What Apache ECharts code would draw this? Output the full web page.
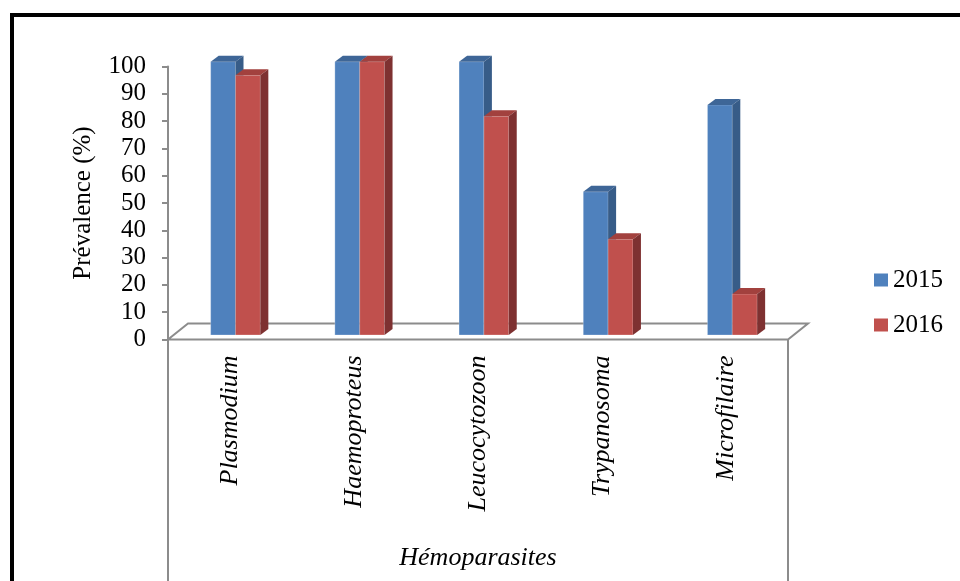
<!DOCTYPE html>
<html>
<head>
<meta charset="utf-8">
<script src="https://cdn.jsdelivr.net/npm/echarts@6/dist/echarts.min.js"></script>
<style>
  html, body { margin: 0; padding: 0; background: #ffffff; }
  #chart { width: 960px; height: 581px; }
</style>
</head>
<body>
<div id="chart"></div>
<script>
// Prévalence des hémoparasites par année
const categories = ['Plasmodium', 'Haemoproteus', 'Leucocytozoon', 'Trypanosoma', 'Microfilaire'];
const years = ['2015', '2016'];
const values2015 = [100, 100, 100, 52.4, 84.2];
const values2016 = [95, 100, 80, 35, 15];

const FONT = '"Liberation Serif", "Times New Roman", serif';
const DEPTH_X = 8;   // oblique depth of the bars
const DEPTH_Y = 6;
const FLOOR_DX = 20; // oblique depth of the floor
const FLOOR_DY = 16;

const palette = {
  '2015': { front: '#4F81BD', top: '#3E6697', side: '#375C88' },
  '2016': { front: '#C0504D', top: '#A2413E', side: '#7E3131' }
};

function barRenderer(year, slot) {
  const c = palette[year];
  return function (params, api) {
    const idx = api.value(0);
    const base = api.coord([idx, 0]);
    const top = api.coord([idx, api.value(1)]);
    const band = api.size([1, 0])[0];
    const w = band * 0.2;
    const x = base[0] + slot * w;
    const yt = top[1], yb = base[1];
    return {
      type: 'group',
      children: [
        {
          type: 'rect',
          shape: { x: x, y: yt, width: w, height: yb - yt },
          style: { fill: c.front, stroke: 'rgba(255,255,255,0.25)', lineWidth: 1 }
        },
        {
          type: 'polygon',
          shape: { points: [[x, yt], [x + DEPTH_X, yt - DEPTH_Y], [x + w + DEPTH_X, yt - DEPTH_Y], [x + w, yt]] },
          style: { fill: c.top }
        },
        {
          type: 'polygon',
          shape: { points: [[x + w, yt], [x + w + DEPTH_X, yt - DEPTH_Y], [x + w + DEPTH_X, yb - DEPTH_Y], [x + w, yb]] },
          style: { fill: c.side }
        }
      ]
    };
  };
}

// Floor of the plot plus the side rules of the category area
function floorRenderer(params, api) {
  const n = categories.length;
  const band = api.size([1, 0])[0];
  const first = api.coord([0, 0]);
  const last = api.coord([n - 1, 0]);
  const x0 = first[0] - band / 2;
  const x1 = last[0] + band / 2;
  const y0 = first[1];
  const lineStyle = { stroke: '#8C8C8C', lineWidth: 2, fill: null };
  return {
    type: 'group',
    children: [
      {
        type: 'polygon',
        shape: { points: [[x0, y0], [x1, y0], [x1 + FLOOR_DX, y0 - FLOOR_DY], [x0 + FLOOR_DX, y0 - FLOOR_DY]] },
        style: { fill: '#ffffff', stroke: '#8C8C8C', lineWidth: 2 }
      },
      { type: 'line', shape: { x1: x0, y1: y0, x2: x0, y2: 600 }, style: lineStyle },
      { type: 'line', shape: { x1: x1, y1: y0, x2: x1, y2: 600 }, style: lineStyle }
    ]
  };
}

const chart = echarts.init(document.getElementById('chart'));

chart.setOption({
  backgroundColor: '#ffffff',
  animation: false,
  graphic: [
    {
      type: 'rect',
      shape: { x: 12, y: 15, width: 1000, height: 700 },
      style: { fill: null, stroke: '#000000', lineWidth: 4 },
      z: 100
    }
  ],
  legend: {
    orient: 'vertical',
    left: 869,
    top: 262,
    itemWidth: 14,
    itemHeight: 13,
    itemGap: 19,
    icon: 'rect',
    textStyle: { fontFamily: FONT, fontSize: 25, color: '#000000', lineHeight: 26 },
    data: years
  },
  grid: [
    { left: 168, right: 172, top: 66.5, bottom: 241.5 },
    { left: 173.4, right: 165.6, top: 61.7, bottom: 246 }
  ],
  xAxis: [
    {
      type: 'category',
      gridIndex: 0,
      data: categories,
      axisLine: { show: false },
      axisTick: { show: false },
      axisLabel: {
        rotate: 90,
        margin: 16,
        interval: 0,
        fontFamily: FONT,
        fontStyle: 'italic',
        fontSize: 26,
        color: '#000000'
      },
      name: 'Hémoparasites',
      nameLocation: 'middle',
      nameGap: 206,
      nameTextStyle: { fontFamily: FONT, fontStyle: 'italic', fontSize: 26, color: '#000000' }
    },
    {
      type: 'category',
      gridIndex: 1,
      data: categories,
      show: false
    }
  ],
  yAxis: [
    {
      type: 'value',
      gridIndex: 0,
      min: 0,
      max: 100,
      interval: 10,
      splitLine: { show: false },
      axisLine: { show: true, lineStyle: { color: '#8C8C8C', width: 2 } },
      axisTick: { show: true, length: 6, lineStyle: { color: '#8C8C8C', width: 2 } },
      axisLabel: { fontFamily: FONT, fontSize: 25, color: '#000000', margin: 22 },
      name: 'Prévalence (%)',
      nameLocation: 'middle',
      nameRotate: 90,
      nameGap: 72,
      nameTextStyle: { fontFamily: FONT, fontSize: 25, color: '#000000' }
    },
    {
      type: 'value',
      gridIndex: 1,
      min: 0,
      max: 100,
      show: false
    }
  ],
  series: [
    {
      type: 'custom',
      name: 'floor',
      xAxisIndex: 0,
      yAxisIndex: 0,
      z: 1,
      silent: true,
      renderItem: floorRenderer,
      data: [[0, 0]]
    },
    {
      type: 'custom',
      name: years[0],
      xAxisIndex: 1,
      yAxisIndex: 1,
      z: 2,
      itemStyle: { color: palette['2015'].front },
      encode: { x: 0, y: 1 },
      renderItem: barRenderer('2015', -1),
      data: values2015.map((v, i) => [i, v])
    },
    {
      type: 'custom',
      name: years[1],
      xAxisIndex: 1,
      yAxisIndex: 1,
      z: 3,
      itemStyle: { color: palette['2016'].front },
      encode: { x: 0, y: 1 },
      renderItem: barRenderer('2016', 0),
      data: values2016.map((v, i) => [i, v])
    }
  ]
});
</script>
</body>
</html>
